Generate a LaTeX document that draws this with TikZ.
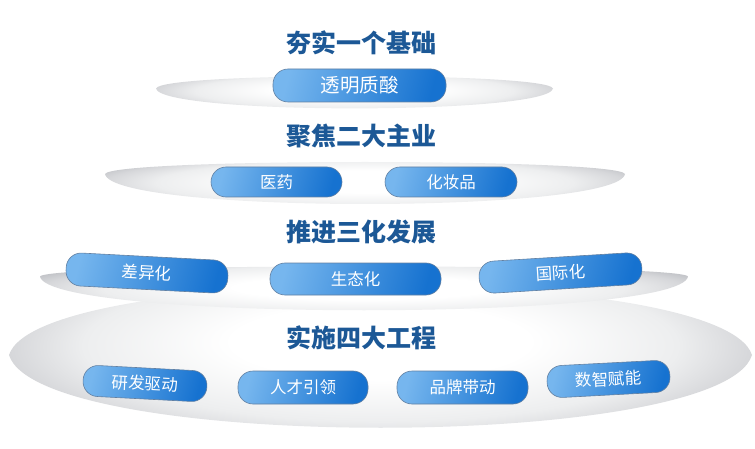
\documentclass[tikz,border=0pt]{standalone}
\usepackage{fontspec}
\newfontfamily\cjk{Noto Sans CJK SC}
\definecolor{titleblue}{RGB}{28,88,150}
\definecolor{pilllight}{RGB}{118,182,238}
\definecolor{pilldark}{RGB}{22,114,208}
\definecolor{pilledge}{RGB}{98,128,162}
\definecolor{disctop}{RGB}{237,238,239}
\definecolor{discmid}{RGB}{214,215,218}
\definecolor{discrim}{RGB}{180,182,187}
\pgfdeclareradialshading{discshade}{\pgfpoint{0bp}{5bp}}{color(0bp)=(white); color(10bp)=(white); color(20bp)=(disctop); color(25bp)=(discmid); color(30bp)=(discrim); color(50bp)=(discrim)}

\begin{document}
\begin{tikzpicture}[
  x=1pt,y=-1pt,
  font=\cjk,
  disc/.style={shading=discshade},
  pill/.style={rounded corners=15pt,draw=pilledge,line width=0.6pt,
    left color=pilllight,right color=pilldark,shading angle=75,
    text=white,inner sep=0pt,font=\cjk\fontsize{16.5}{18}\selectfont},
  title/.style={text=titleblue,font=\cjk\bfseries\fontsize{25}{28}\selectfont}
]
\useasboundingbox (0,0) rectangle (755,449);

% -------------------------------------------------------------------------
% Discs, widest at the bottom; the third one overlaps the fourth.
% -------------------------------------------------------------------------
\shade[disc] (9,355) .. controls (39,262) and (722,262) .. (752,355)
  .. controls (722,452) and (39,452) .. cycle;
\shade[disc] (40,276.5) .. controls (48,263) and (680,263) .. (688,276.5)
  .. controls (680,321.5) and (48,321.5) .. cycle;
\shade[disc] (105,174) .. controls (112,158) and (618,158) .. (625,174)
  .. controls (618,214) and (112,214) .. cycle;
\shade[disc] (156,88.5) .. controls (161,72) and (548,72) .. (553,88.5)
  .. controls (548,115) and (161,115) .. cycle;

% -------------------------------------------------------------------------
% Tier titles.
% -------------------------------------------------------------------------
\node[title] (base) at (361,43) {夯实一个基础};
\node[title] (focus) at (361,136) {聚焦二大主业};
\node[title] (advance) at (361,232) {推进三化发展};
\node[title] (project) at (361,338) {实施四大工程};

% -------------------------------------------------------------------------
% Pills on each disc.
% -------------------------------------------------------------------------
\node[pill,minimum width=173pt,minimum height=33pt,
  font=\cjk\fontsize{19.5}{21}\selectfont] (acid) at (359.5,85.5) {透明质酸};

\node[pill,minimum width=131pt,minimum height=30pt] (pharma) at (276.5,182) {医药};
\node[pill,minimum width=132pt,minimum height=30pt] (cosmetic) at (451,182) {化妆品};

\node[pill,minimum width=162pt,minimum height=33pt,rotate=-3] (diff) at (147,273) {差异化};
\node[pill,minimum width=171pt,minimum height=32pt] (eco) at (355.5,279) {生态化};
\node[pill,minimum width=163pt,minimum height=32pt,rotate=3.5] (intl) at (560.5,273) {国际化};

\node[pill,minimum width=124pt,minimum height=31pt,rotate=-3] (rnd) at (145,383.5) {研发驱动};
\node[pill,minimum width=130pt,minimum height=33pt] (talent) at (303,387.5) {人才引领};
\node[pill,minimum width=131pt,minimum height=33pt] (brand) at (462.5,387.5) {品牌带动};
\node[pill,minimum width=123pt,minimum height=32pt,rotate=3] (digital) at (608.5,379) {数智赋能};
\end{tikzpicture}
\end{document}
